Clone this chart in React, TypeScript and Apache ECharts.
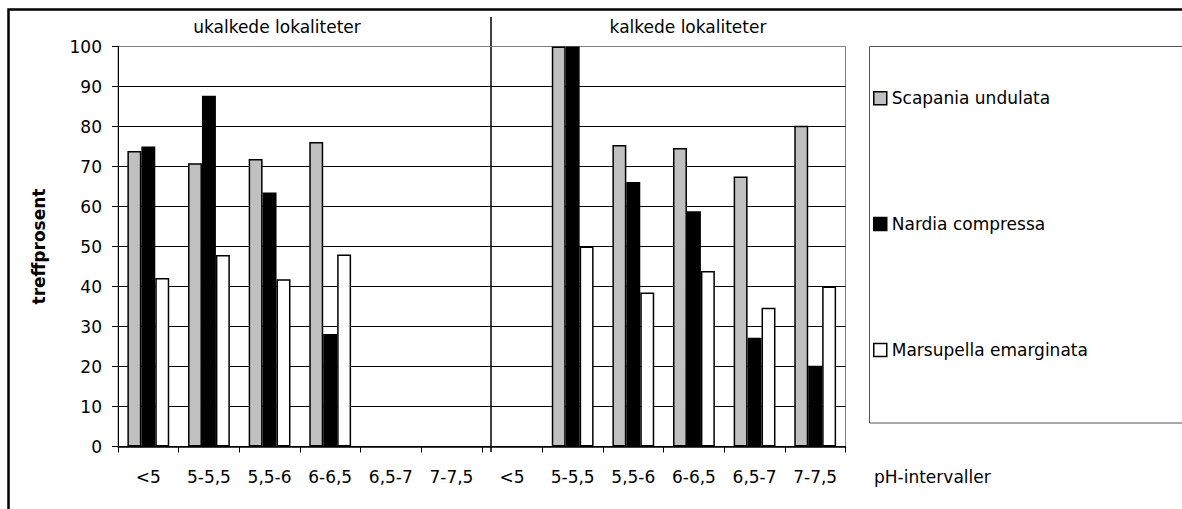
import React, { useEffect, useRef } from "react";
import * as echarts from "echarts";

const phIntervals = ["<5", "5-5,5", "5,5-6", "6-6,5", "6,5-7", "7-7,5"];
const groupNames = ["ukalkede lokaliteter", "kalkede lokaliteter"];
const seriesNames = ["Scapania undulata", "Nardia compressa", "Marsupella emarginata"];

// ukalkede lokaliteter
const scapaniaUkalk = [73.9, 70.8, 71.9, 76.1, null, null];
const nardiaUkalk = [75.0, 87.7, 63.5, 28.1, null, null];
const marsupellaUkalk = [42.1, 47.9, 41.8, 48.0, null, null];
// kalkede lokaliteter
const scapaniaKalk = [null, 100, 75.4, 74.6, 67.5, 80.2];
const nardiaKalk = [null, 100, 66.1, 58.8, 27.2, 20.2];
const marsupellaKalk = [null, 50, 38.5, 43.9, 34.7, 40.0];

const yTicks = [0, 10, 20, 30, 40, 50, 60, 70, 80, 90, 100];

const FONT = "DejaVu Sans";
const FS = 17;

export default function App() {
  const ref = useRef<HTMLDivElement>(null);
  useEffect(() => {
    if (!ref.current) return;
    const chart = echarts.init(ref.current, null, { renderer: "svg" });
    const categories = [
      ...phIntervals.map((p) => "u|" + p),
      ...phIntervals.map((p) => "k|" + p),
    ];
    const data = [
      [...scapaniaUkalk, ...scapaniaKalk],
      [...nardiaUkalk, ...nardiaKalk],
      [...marsupellaUkalk, ...marsupellaKalk],
    ];
    const colors = ["#c0c0c0", "#000000", "#ffffff"];
    const splitColors = yTicks.map((t) => (t === 100 ? "#808080" : "#000000"));
    const legendCenters = [98.3, 224, 350];

    chart.setOption({
      animation: false,
      backgroundColor: "#ffffff",
      textStyle: { fontFamily: FONT, fontSize: FS, color: "#000" },
      grid: {
        left: 118,
        top: 46.5,
        width: 727.5,
        height: 400,
        show: true,
        borderColor: "#808080",
        borderWidth: 1,
        backgroundColor: "transparent",
      },
      xAxis: {
        type: "category",
        data: categories,
        axisLine: { lineStyle: { color: "#000", width: 1.5 } },
        axisTick: { show: true, length: 6, lineStyle: { color: "#000" } },
        axisLabel: {
          formatter: (v: string) => v.split("|")[1],
          fontFamily: FONT,
          fontSize: FS,
          color: "#000",
          margin: 22,
          interval: 0,
        },
        splitLine: { show: false },
      },
      yAxis: {
        type: "value",
        min: 0,
        max: 100,
        interval: 10,
        name: "treffprosent",
        nameLocation: "middle",
        nameGap: 71,
        nameRotate: 90,
        nameTextStyle: { fontFamily: FONT, fontSize: FS, fontWeight: "bold", color: "#000" },
        axisLine: { show: true, lineStyle: { color: "#000", width: 1 } },
        axisTick: { show: true, length: 6, lineStyle: { color: "#000" } },
        axisLabel: { fontFamily: FONT, fontSize: FS, color: "#000", margin: 16 },
        splitLine: { show: true, lineStyle: { color: splitColors, width: 1 } },
      },
      legend: seriesNames.map((n, i) => ({
        data: [n],
        orient: "vertical",
        left: 873,
        top: legendCenters[i] - 8.5,
        padding: 0,
        itemWidth: 13,
        itemHeight: 13,
        icon: "rect",
        selectedMode: false,
        textStyle: { fontFamily: FONT, fontSize: FS, color: "#000" },
        itemStyle: { borderColor: "#000", borderWidth: 1.5 },
      })),
      series: seriesNames.map((n, i) => ({
        name: n,
        type: "bar",
        data: data[i],
        barGap: "0%",
        barCategoryGap: "31%",
        itemStyle: { color: colors[i], borderColor: "#000", borderWidth: 1.5 },
      })),
      graphic: [
        {
          type: "rect",
          shape: { x: 8.5, y: 9.5, width: 1400, height: 1000 },
          style: { fill: "none", stroke: "#000", lineWidth: 2.5 },
          silent: true,
        },
        {
          type: "rect",
          shape: { x: 869.5, y: 46.5, width: 400, height: 376.5 },
          style: { fill: "none", stroke: "#555", lineWidth: 1 },
          silent: true,
        },
        {
          type: "line",
          shape: { x1: 491, y1: 17, x2: 491, y2: 452 },
          style: { stroke: "#000", lineWidth: 1.5 },
          silent: true,
        },
        {
          type: "text",
          x: 277,
          y: 27,
          style: {
            text: groupNames[0],
            fontFamily: FONT,
            fontSize: FS,
            fill: "#000",
            align: "center",
            verticalAlign: "middle",
          },
        },
        {
          type: "text",
          x: 688,
          y: 27,
          style: {
            text: groupNames[1],
            fontFamily: FONT,
            fontSize: FS,
            fill: "#000",
            align: "center",
            verticalAlign: "middle",
          },
        },
        {
          type: "text",
          x: 874,
          y: 477,
          style: {
            text: "pH-intervaller",
            fontFamily: FONT,
            fontSize: FS,
            fill: "#000",
            align: "left",
            verticalAlign: "middle",
          },
        },
      ],
    });
    return () => chart.dispose();
  }, []);
  return (
    <div
      ref={ref}
      style={{ position: "absolute", left: 0, top: 0, width: 1182, height: 509 }}
    />
  );
}
